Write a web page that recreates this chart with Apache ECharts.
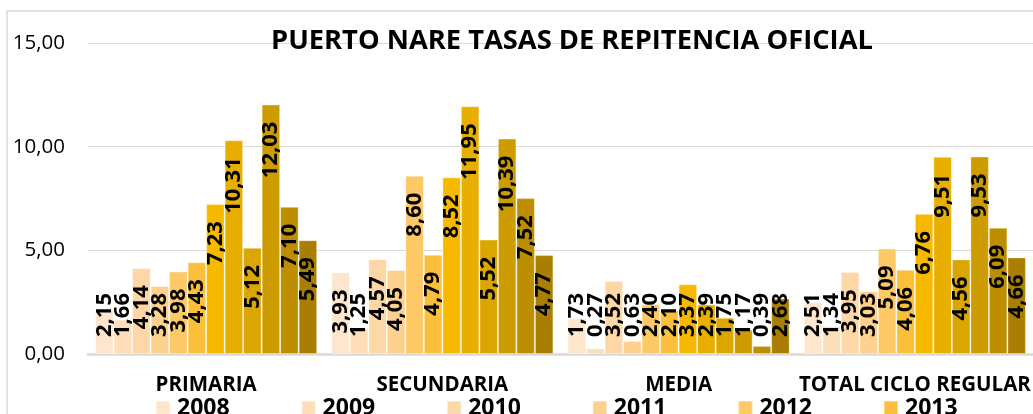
<!DOCTYPE html>
<html>
<head>
<meta charset="utf-8">
<script src="https://cdn.jsdelivr.net/npm/echarts@6/dist/echarts.min.js"></script>
<style>
  html, body { margin: 0; padding: 0; background: #fff; }
  #chart { width: 1033px; height: 414px; }
</style>
</head>
<body>
<div id="chart"></div>
<script>
// categorias y años
const categories = ["PRIMARIA", "SECUNDARIA", "MEDIA", "TOTAL CICLO REGULAR"];
const years = ["2008", "2009", "2010", "2011", "2012", "2013", "2014", "2015", "2016", "2017", "2018", "2019"];

// tasas por año (orden: primaria, secundaria, media, total)
const v2008 = [2.15, 3.93, 1.73, 2.51];
const v2009 = [1.66, 1.25, 0.27, 1.34];
const v2010 = [4.14, 4.57, 3.52, 3.95];
const v2011 = [3.28, 4.05, 0.63, 3.03];
const v2012 = [3.98, 8.60, 2.40, 5.09];
const v2013 = [4.43, 4.79, 2.10, 4.06];
const v2014 = [7.23, 8.52, 3.37, 6.76];
const v2015 = [10.31, 11.95, 2.39, 9.51];
const v2016 = [5.12, 5.52, 1.75, 4.56];
const v2017 = [12.03, 10.39, 1.17, 9.53];
const v2018 = [7.10, 7.52, 0.39, 6.09];
const v2019 = [5.49, 4.77, 2.68, 4.66];
const values = [v2008, v2009, v2010, v2011, v2012, v2013, v2014, v2015, v2016, v2017, v2018, v2019];

const colors = ["#FDE6CC", "#FDDEB8", "#FDD7A5", "#FDD08E", "#FDC866", "#FCBF3C",
  "#F7B900", "#E8AF00", "#DBA600", "#CD9C00", "#BD8F00", "#AA7E00"];

const font = "'Open Sans', sans-serif";
const pad = 17; // separacion de la etiqueta al extremo de la barra

let chart = echarts.init(document.getElementById("chart"));
let option = {
  animation: false,
  color: colors,
  title: {
    text: "PUERTO NARE TASAS DE REPITENCIA OFICIAL",
    left: 266,
    top: 23,
    textStyle: {
      fontFamily: font,
      fontWeight: "bold",
      fontSize: 27.3,
      color: "#000",
    },
  },
  graphic: [
    {
      type: "rect",
      shape: { x: 7, y: 11, width: 1100, height: 500 },
      style: { fill: null, stroke: "#d9d9d9", lineWidth: 1.5 },
      silent: true,
      z: -1,
    },
  ],
  legend: {
    data: years,
    left: 150,
    top: 392,
    width: 850,
    itemWidth: 14,
    itemHeight: 15,
    itemGap: 71,
    icon: "rect",
    textStyle: {
      fontFamily: font,
      fontWeight: "bold",
      fontSize: 23,
      color: "#000",
      padding: [0, 0, 0, 2],
    },
  },
  grid: {
    left: 88,
    top: 43,
    width: 957,
    bottom: 60,
  },
  xAxis: {
    type: "category",
    data: categories,
    axisTick: { show: false },
    axisLine: { lineStyle: { color: "#d9d9d9", width: 2.5 } },
    axisLabel: {
      margin: 21,
      fontFamily: font,
      fontWeight: "bold",
      fontSize: 20.5,
      color: "#000",
      interval: 0,
    },
  },
  yAxis: {
    type: "value",
    min: 0,
    max: 15,
    interval: 5,
    axisLine: { show: false },
    axisTick: { show: false },
    splitLine: { lineStyle: { color: "#d9d9d9", width: 1 } },
    axisLabel: {
      margin: 23,
      fontFamily: font,
      fontSize: 20.5,
      color: "#000",
      formatter: (v) => v.toFixed(2).replace(".", ","),
    },
  },
  series: years.map((y, i) => ({
    name: y,
    type: "bar",
    data: values[i],
    barGap: 0,
    barCategoryGap: "6%",
    itemStyle: { borderColor: "rgba(255,255,255,0.35)", borderWidth: 1 },
    label: {
      show: true,
      position: "insideBottom",
      rotate: 90,
      align: "left",
      verticalAlign: "middle",
      fontFamily: font,
      fontWeight: "bold",
      fontSize: 22,
      color: "#000",
      formatter: (p) => p.value.toFixed(2).replace(".", ","),
    },
    // etiqueta en el extremo interior; si no cabe, se apoya sobre la base
    labelLayout: (params) => {
      const r = params.rect;
      const lr = params.labelRect;
      const len = Math.max(lr.width, lr.height);
      const base = r.y + r.height;
      const bottom = Math.min(r.y + pad + len, base - pad);
      return { x: r.x + r.width / 2, y: bottom };
    },
  })),
};
chart.setOption(option);
</script>
</body>
</html>
